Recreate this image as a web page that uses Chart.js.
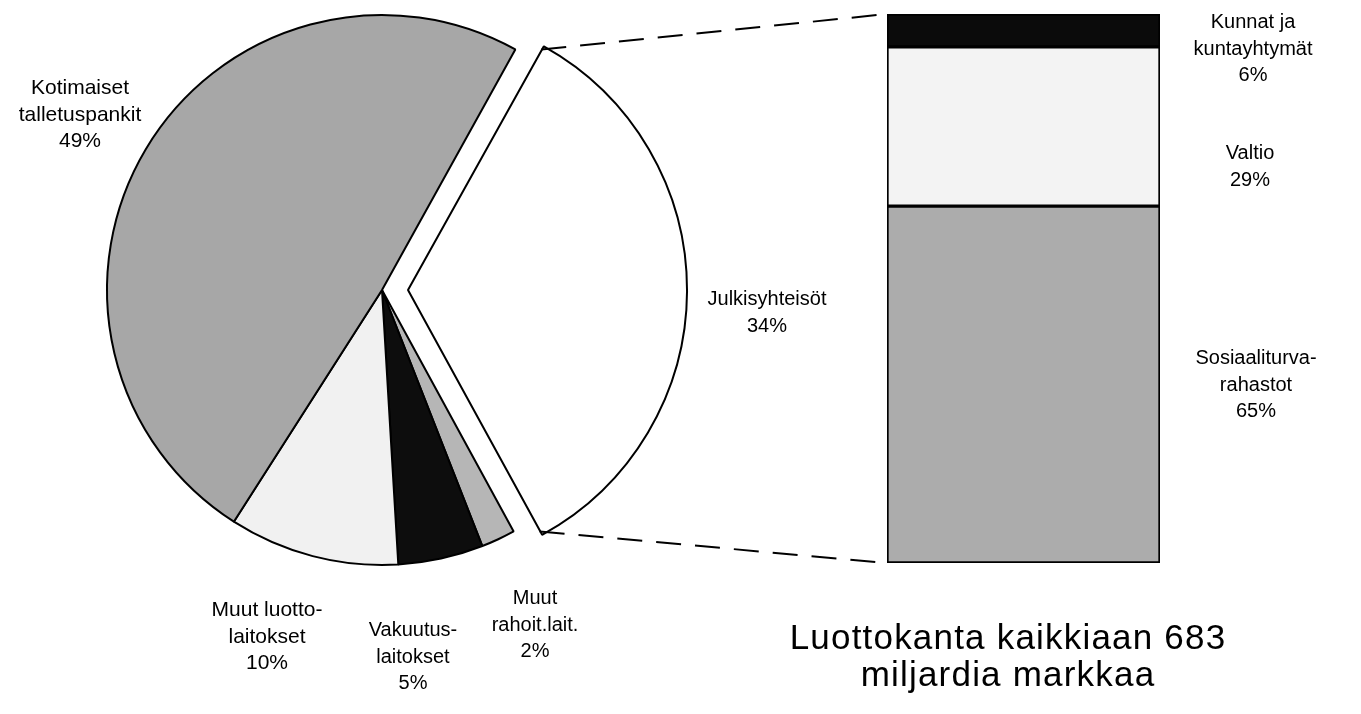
<!DOCTYPE html>
<html>
<head>
<meta charset="utf-8">
<title>Luottokanta</title>
<script src="https://cdn.jsdelivr.net/npm/chart.js@4.4.1/dist/chart.umd.min.js"></script>
<style>
  html, body { margin: 0; padding: 0; background: #fff; }
  #wrap { position: relative; width: 1361px; height: 714px; overflow: hidden;
          font-family: "Liberation Sans", Arial, Helvetica, sans-serif; color: #000; }
  #wrap canvas { position: absolute; left: 0; top: 0; }
  .lbl { position: absolute; transform: translate(-50%, -50%); text-align: center;
         font-size: 20px; line-height: 26.5px; white-space: nowrap; }
  .wide { font-size: 21px; }
  .title { font-size: 35px; line-height: 37px; letter-spacing: 1.2px; }
</style>
</head>
<body>
<div id="wrap">
  <canvas id="pie" width="1361" height="714"></canvas>
  <canvas id="bar" width="1361" height="714"></canvas>
</div>
<script>
/* ---- DATA --------------------------------------------------- */
// pie, clockwise from the exploded slice
const pieLabels = [['Julkisyhteisöt'], ['Muut', 'rahoit.lait.'], ['Vakuutus-', 'laitokset'],
                   ['Muut luotto-', 'laitokset'], ['Kotimaiset', 'talletuspankit']];
const pieValues = [34, 2, 5, 10, 49];
const pieColors = ['#ffffff', '#b6b6b6', '#0d0d0d', '#f1f1f1', '#a7a7a7'];

// breakdown bar of Julkisyhteisöt, bottom -> top
const barLabels = [['Sosiaaliturva-', 'rahastot'], ['Valtio'], ['Kunnat ja', 'kuntayhtymät']];
const barValues = [65, 29, 6];
const barColors = ['#acacac', '#f3f3f3', '#0b0b0b'];

const titleLines = ['Luottokanta kaikkiaan 683', 'miljardia markkaa'];

/* ---- LAYOUT ------------------------------------------------- */
const W = 1361, H = 714;
const PIE_CX = 382, PIE_CY = 290, PIE_R = 275;
const BAR = { left: 887, right: 1160, top: 14, bottom: 563 };

/* ---- PIE ---------------------------------------------------- */
const pieChart = new Chart(document.getElementById('pie'), {
  type: 'pie',
  data: {
    labels: pieLabels.map(l => l.join(' ')),
    datasets: [{
      data: pieValues,
      backgroundColor: pieColors,
      borderColor: '#000',
      borderWidth: 2,
      offset: [104, 0, 0, 0, 0]   // arc draws offset/4 -> ~26px
    }]
  },
  options: {
    responsive: false,
    animation: false,
    events: [],
    rotation: 29,
    radius: PIE_R,
    layout: { padding: { left: 0, top: 0, right: W - 2 * PIE_CX, bottom: H - 2 * PIE_CY } },
    plugins: { legend: { display: false }, tooltip: { enabled: false } }
  }
});

/* ---- dashed connectors -------------------------------------- */
const connectors = {
  id: 'connectors',
  afterDraw(chart) {
    const arc = pieChart.getDatasetMeta(0).data[0];
    const half = (arc.startAngle + arc.endAngle) / 2;
    const off = (arc.options.offset || 0) / 4;
    const cx = arc.x + Math.cos(half) * off;
    const cy = arc.y + Math.sin(half) * off;
    const r = arc.outerRadius;
    const p1 = [cx + Math.cos(arc.startAngle) * r, cy + Math.sin(arc.startAngle) * r];
    const p2 = [cx + Math.cos(arc.endAngle) * r, cy + Math.sin(arc.endAngle) * r];
    const a = chart.chartArea;
    const ctx = chart.ctx;
    ctx.save();
    ctx.strokeStyle = '#000';
    ctx.lineWidth = 2;
    ctx.setLineDash([25, 14]);
    ctx.beginPath();
    ctx.moveTo(p1[0], p1[1]); ctx.lineTo(a.left, a.top);
    ctx.moveTo(p2[0], p2[1]); ctx.lineTo(a.left, a.bottom);
    ctx.stroke();
    ctx.restore();
  }
};

/* ---- BAR ---------------------------------------------------- */
new Chart(document.getElementById('bar'), {
  type: 'bar',
  data: {
    labels: [''],
    datasets: barValues.map((v, i) => ({
      label: barLabels[i].join(' '),
      data: [v],
      backgroundColor: barColors[i],
      borderColor: '#000',
      borderWidth: 2,
      borderSkipped: false,
      barPercentage: 1,
      categoryPercentage: 1
    }))
  },
  options: {
    responsive: false,
    animation: false,
    events: [],
    layout: { padding: { left: BAR.left, top: BAR.top, right: W - BAR.right, bottom: H - BAR.bottom } },
    scales: {
      x: { stacked: true, display: false },
      y: { stacked: true, display: false, min: 0, max: 100 }
    },
    plugins: { legend: { display: false }, tooltip: { enabled: false } }
  },
  plugins: [connectors]
});

/* ---- LABELS ------------------------------------------------- */
const wrap = document.getElementById('wrap');
function addLabel(lines, x, y, cls) {
  const d = document.createElement('div');
  d.className = 'lbl' + (cls ? ' ' + cls : '');
  d.style.left = x + 'px';
  d.style.top = y + 'px';
  d.innerHTML = lines.join('<br>');
  wrap.appendChild(d);
}

const piePos = [[767, 311], [535, 624], [413, 656], [267, 636], [80, 114]];
const pieCls = ['', '', '', 'wide', 'wide'];
pieLabels.forEach((l, i) => addLabel([...l, pieValues[i] + '%'], piePos[i][0], piePos[i][1], pieCls[i]));

const barPos = [[1256, 384], [1250, 165], [1253, 48]];
barLabels.forEach((l, i) => addLabel([...l, barValues[i] + '%'], barPos[i][0], barPos[i][1]));

addLabel(titleLines, 1008, 655, 'title');
</script>
</body>
</html>
